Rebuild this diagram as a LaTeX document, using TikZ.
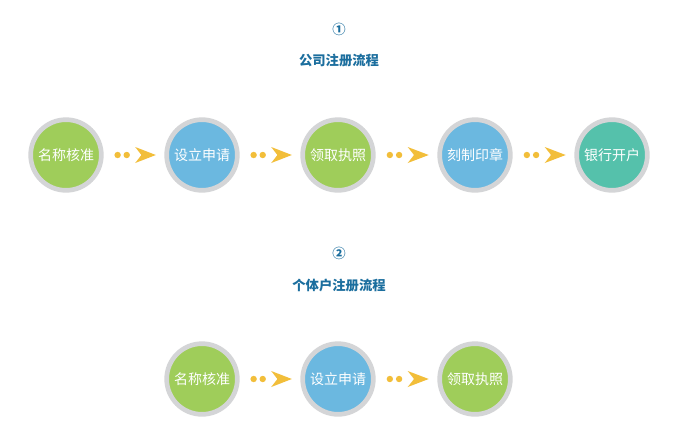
\documentclass[tikz,border=0pt]{standalone}
\usepackage{fontspec}
\newfontfamily\cjk{Noto Sans CJK SC}
\usetikzlibrary{calc}
\definecolor{stepgreen}{HTML}{9FCD5A}
\definecolor{stepblue}{HTML}{6BB8E0}
\definecolor{stepteal}{HTML}{55C1AB}
\definecolor{ringgray}{HTML}{D4D5D7}
\definecolor{titleblue}{HTML}{1B6E9E}
\definecolor{arrowgold}{HTML}{F2BE3A}
\tikzset{
  stepnode/.style={circle,draw=ringgray,line width=3.5pt,minimum size=53pt,inner sep=0pt,text=white,font=\cjk\fontsize{10.5}{12}\selectfont},
  titlenode/.style={text=titleblue,font=\cjk\bfseries\fontsize{10}{12}\selectfont}
}
\newcommand{\flowarrow}[2]{%
  \path (#1.east) -- (#2.west) coordinate[pos=0.23] (d1) coordinate[pos=0.38] (d2) coordinate[pos=0.52] (t1) coordinate[pos=0.86] (t2);
  \fill[arrowgold] (d1) circle (2.4pt);
  \fill[arrowgold] (d2) circle (2.4pt);
  \fill[arrowgold] ($(t1)+(0,8)$) -- (t2) -- ($(t1)+(0,-8)$) -- ($(t1)!0.3!(t2)$) -- cycle;
}
\begin{document}
\begin{tikzpicture}[x=0.75pt,y=0.75pt,yscale=-1,xscale=1]
		\useasboundingbox[fill=white] (0,0) rectangle (678,440);
		% first row
		\node[titlenode] (n1) at (339,29) {①};
		\node[titlenode] (t1) at (339,60) {公司注册流程};
		\node[stepnode,fill=stepgreen] (a1) at (66,155) {名称核准};
		\node[stepnode,fill=stepblue] (a2) at (202,155) {设立申请};
		\node[stepnode,fill=stepgreen] (a3) at (338,155) {领取执照};
		\node[stepnode,fill=stepblue] (a4) at (475,155) {刻制印章};
		\node[stepnode,fill=stepteal] (a5) at (612,155) {银行开户};
		\flowarrow{a1}{a2}
		\flowarrow{a2}{a3}
		\flowarrow{a3}{a4}
		\flowarrow{a4}{a5}
		% second row
		\node[titlenode] (n2) at (339,253) {②};
		\node[titlenode] (t2) at (339,285) {个体户注册流程};
		\node[stepnode,fill=stepgreen] (b1) at (202,379) {名称核准};
		\node[stepnode,fill=stepblue] (b2) at (338,379) {设立申请};
		\node[stepnode,fill=stepgreen] (b3) at (475,379) {领取执照};
		\flowarrow{b1}{b2}
		\flowarrow{b2}{b3}
\end{tikzpicture}
\end{document}
